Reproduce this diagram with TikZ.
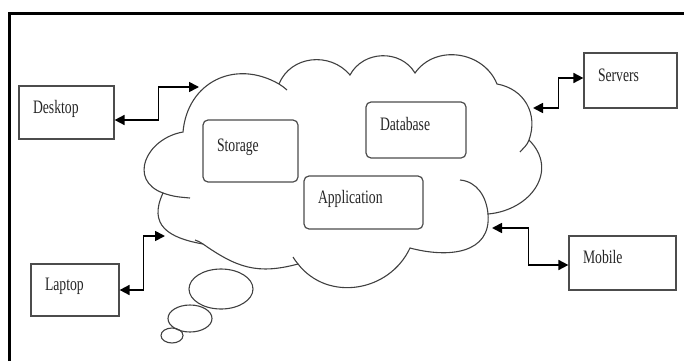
\documentclass[tikz,border=0pt]{standalone}
\usepackage{fontspec}
\setmainfont[FakeStretch=0.72]{Liberation Serif}
\usetikzlibrary{positioning, arrows.meta, calc}

\begin{document}
\begin{tikzpicture}[x=1pt, y=1pt, font=\fontsize{19}{22}\selectfont,
    device/.style={draw=black!70, line width=1.2pt, fill=white, align=left, inner xsep=14pt,
      text height=14pt, text depth=12.4pt, text=black!85},
    service/.style={device, rounded corners=5pt},
    link/.style={line width=1.7pt, {Triangle[length=10pt,width=10pt]}-{Triangle[length=10pt,width=10pt]}},
    puff/.style={draw=black!75, line width=1.1pt}]
  \useasboundingbox (0,0) rectangle (684,-361);
  \draw[line width=3pt] (9,-361) -- (9,-13.5) -- (684,-13.5);

  % the cloud
  \draw[puff] (183,-132) to[out=85,in=150,looseness=1.2] (279,-84)
    to[out=68,in=130,looseness=1.1] (350,-75)
    to[out=62,in=121,looseness=1.1] (415,-73)
    to[out=55,in=112,looseness=1.1] (497,-84)
    to[out=-10,in=70,looseness=1.1] (529,-140)
    to[out=-45,in=5,looseness=1.3] (488,-214)
    to[out=-85,in=-15,looseness=1.2] (410,-248)
    to[out=-115,in=-52,looseness=1.1] (298,-264)
    to[out=195,in=-35,looseness=1.1] (203,-244)
    to[out=170,in=245,looseness=1.4] (163,-193)
    to[out=160,in=190,looseness=1.5] (183,-132) -- cycle;
  \draw[puff] (279,-84) to[out=-30,in=140] (287,-90);
  \draw[puff] (529,-140) to[out=-110,in=50] (520,-152);
  \draw[puff] (460,-180) to[out=-5,in=95] (488,-214);
  \draw[puff] (163,-193) to[out=-20,in=175] (190,-198);
  \draw[puff] (298,-264) to[out=128,in=-60] (293,-257);
  \draw[puff] (203,-244) to[out=145,in=-20] (195,-240);
  \draw[puff] (221,-289) ellipse [x radius=32, y radius=20];
  \draw[puff] (190,-318.5) ellipse [x radius=22, y radius=13.5];
  \draw[puff] (172,-335.5) ellipse [x radius=11, y radius=7.5];

  \coordinate (cd) at (199,-87);
  \coordinate (cl) at (165,-236);
  \coordinate (cs) at (533,-108);
  \coordinate (cm) at (492,-228);

  \node[device, text width=67pt, minimum height=53pt] (desk) at (66.5,-112.5) {Desktop};
  \node[device, text width=60pt, minimum height=52pt] (lap) at (75,-290) {Laptop};
  \node[device, text width=65pt, minimum height=55pt] (srv) at (630.5,-80.5) {Servers};
  \node[device, text width=79pt, minimum height=54pt] (mob) at (622.5,-263) {Mobile};
  \node[service, text width=67pt, minimum height=62pt] (stor) at (250.5,-151) {Storage};
  \node[service, text width=72pt, minimum height=56pt] (db) at (416,-130) {Database};
  \node[service, text width=91pt, minimum height=53pt] (app) at (363.5,-202.5) {Application};

  \draw[link] ([yshift=-7.5pt]desk.east) -- ++(44,0) |- (cd);
  \draw[link] (lap.east) -- ++(24,0) |- (cl);
  \draw[link] ([yshift=2.5pt]srv.west) -- ++(-25,0) |- (cs);
  \draw[link] ([yshift=-2pt]mob.west) -- ++(-40,0) |- (cm);
\end{tikzpicture}
\end{document}
